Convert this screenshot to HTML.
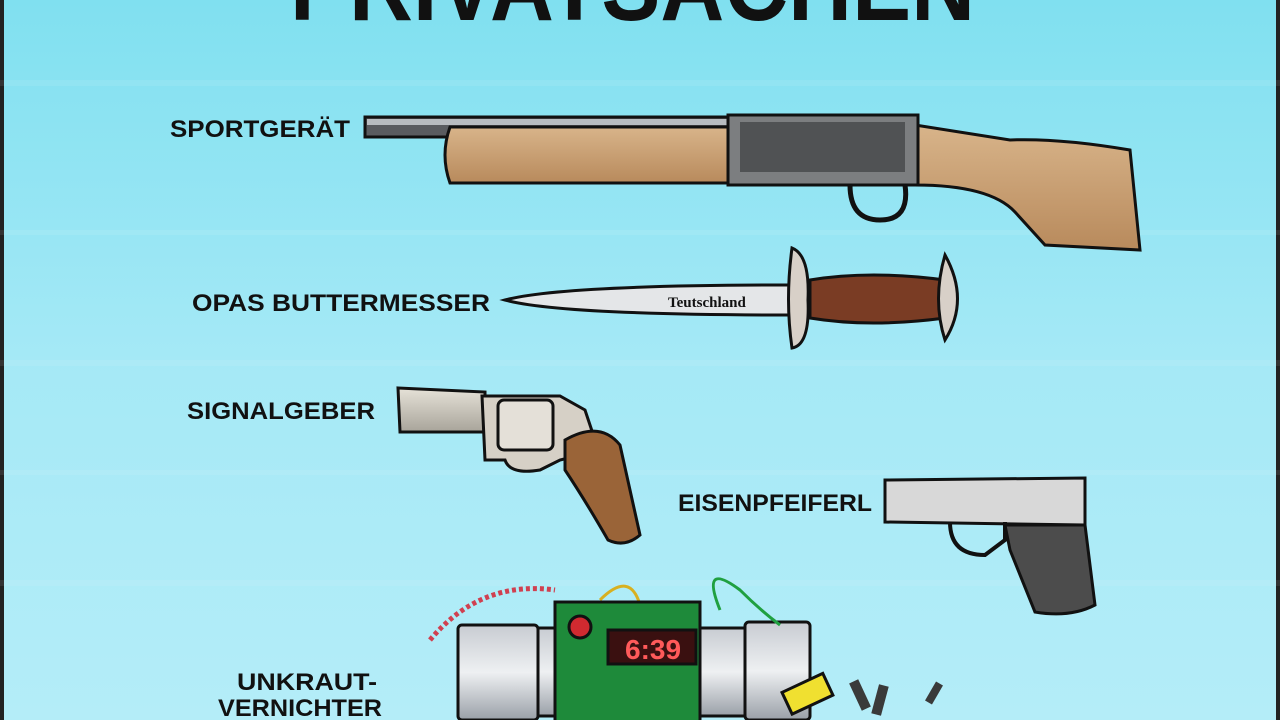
<!DOCTYPE html>
<html><head><meta charset="utf-8"><style>
html,body{margin:0;padding:0;width:1280px;height:720px;overflow:hidden}
svg{display:block}
text{font-family:"Liberation Sans",sans-serif;font-weight:bold;fill:#111}
</style></head><body>
<svg width="1280" height="720" viewBox="0 0 1280 720" xmlns="http://www.w3.org/2000/svg">
<defs>
<linearGradient id="bg" x1="0" y1="0" x2="0" y2="1">
<stop offset="0" stop-color="#80e0f0"/><stop offset="0.5" stop-color="#a5e9f6"/><stop offset="1" stop-color="#b4edf8"/>
</linearGradient>
<linearGradient id="wood" x1="0" y1="0" x2="0" y2="1">
<stop offset="0" stop-color="#d8b48a"/><stop offset="1" stop-color="#b88a5c"/>
</linearGradient>
<linearGradient id="metal" x1="0" y1="0" x2="0" y2="1">
<stop offset="0" stop-color="#e6e2d8"/><stop offset="1" stop-color="#a8a49a"/>
</linearGradient>
<linearGradient id="pipe" x1="0" y1="0" x2="0" y2="1">
<stop offset="0" stop-color="#c8ccd2"/><stop offset="0.5" stop-color="#eef0f2"/><stop offset="1" stop-color="#9aa0a8"/>
</linearGradient>
</defs>
<rect width="1280" height="720" fill="url(#bg)"/>
<rect x="0" y="0" width="4" height="720" fill="#222"/>
<rect x="1276" y="0" width="4" height="720" fill="#222"/>
<g fill="#fff" opacity="0.08">
<rect x="0" y="80" width="1280" height="6"/><rect x="0" y="230" width="1280" height="5"/>
<rect x="0" y="360" width="1280" height="6"/><rect x="0" y="470" width="1280" height="5"/><rect x="0" y="580" width="1280" height="6"/>
</g>
<!-- title -->
<text x="290" y="20" font-size="100" textLength="685" lengthAdjust="spacingAndGlyphs">PRIVATSACHEN</text>

<!-- labels -->
<text x="170" y="137" font-size="24" textLength="180" lengthAdjust="spacingAndGlyphs">SPORTGERÄT</text>
<text x="192" y="311" font-size="24" textLength="298" lengthAdjust="spacingAndGlyphs">OPAS BUTTERMESSER</text>
<text x="187" y="419" font-size="24" textLength="188" lengthAdjust="spacingAndGlyphs">SIGNALGEBER</text>
<text x="678" y="511" font-size="24" textLength="194" lengthAdjust="spacingAndGlyphs">EISENPFEIFERL</text>
<text x="237" y="690" font-size="24" textLength="140" lengthAdjust="spacingAndGlyphs">UNKRAUT-</text>
<text x="218" y="716" font-size="24" textLength="164" lengthAdjust="spacingAndGlyphs">VERNICHTER</text>

<!-- shotgun -->
<g stroke="#111" stroke-width="3">
<rect x="365" y="117" width="370" height="20" fill="#5a5c60"/>
<rect x="367" y="119" width="366" height="6" fill="#b8bcc0" stroke="none"/>
<path d="M915 125 L1010 140 Q1060 138 1130 150 L1140 250 L1045 245 L1015 212 Q990 185 915 185 Z" fill="url(#wood)"/>
<path d="M450 127 L728 127 L728 183 L450 183 Q440 155 450 127 Z" fill="url(#wood)"/>
<rect x="728" y="115" width="190" height="70" fill="#7c7e80"/>
<path d="M850 185 Q850 220 880 220 Q910 220 905 185" fill="none" stroke-width="5"/>
</g>
<rect x="740" y="122" width="165" height="50" fill="#505254"/>

<!-- knife -->
<g stroke="#111" stroke-width="3">
<path d="M505 300 Q560 285 790 285 L790 315 Q560 315 505 300 Z" fill="#e4e6e8"/>
<path d="M792 248 Q810 255 808 300 Q810 345 792 348 Q785 300 792 248 Z" fill="#d8d0c8"/>
<path d="M810 280 Q870 270 945 280 L945 318 Q870 328 810 318 Z" fill="#7a3c24"/>
<path d="M945 255 Q970 300 945 340 Q932 300 945 255 Z" fill="#d8d0c8"/>
</g>
<text x="668" y="307" font-size="15" fill="#444" style="font-family:'Liberation Serif',serif">Teutschland</text>

<!-- revolver -->
<g stroke="#111" stroke-width="3">
<path d="M398 388 L485 392 L485 432 L400 432 Z" fill="url(#metal)"/>
<path d="M482 396 L560 396 L585 410 L595 440 L600 450 L560 460 L540 470 Q510 475 505 460 L485 460 Z" fill="#d6d0c6"/>
<rect x="498" y="400" width="55" height="50" rx="6" fill="#e4e0d8"/>
<path d="M565 440 Q600 420 620 445 L640 535 Q625 548 608 540 Q585 500 565 470 Z" fill="#9a6438"/>
</g>

<!-- pistol -->
<g stroke="#111" stroke-width="3">
<path d="M885 480 L1085 478 L1085 525 L885 522 Z" fill="#d8d8d8"/>
<path d="M950 522 Q950 555 985 555 L1005 540 L1005 522" fill="none" stroke-width="4"/>
<path d="M1005 525 L1085 525 L1095 605 Q1070 618 1035 612 L1010 550 Z" fill="#4c4c4c"/>
</g>

<!-- bomb -->
<g stroke="#111" stroke-width="3">
<rect x="460" y="628" width="350" height="88" rx="4" fill="url(#pipe)"/>
<rect x="458" y="625" width="80" height="95" rx="4" fill="url(#pipe)"/>
<rect x="745" y="622" width="65" height="98" rx="4" fill="url(#pipe)"/>
<path d="M430 640 Q480 580 555 590" fill="none" stroke="#d04050" stroke-width="5" stroke-dasharray="4 3"/>
<path d="M600 600 Q630 570 640 605" fill="none" stroke="#d8b020" stroke-width="3"/>
<path d="M720 610 Q700 560 740 590 Q760 610 780 625" fill="none" stroke="#20a040" stroke-width="3"/>
<rect x="555" y="602" width="145" height="120" fill="#1e8a3a"/>
<rect x="608" y="630" width="88" height="34" fill="#3a1010"/>
<circle cx="580" cy="627" r="11" fill="#d02a30"/>
<rect x="785" y="682" width="45" height="24" fill="#f0e030" transform="rotate(-25 807 694)"/>
</g>
<text x="625" y="659" font-size="28" style="fill:#ff5a5a">6:39</text>
<g fill="#3a3a3a">
<rect x="855" y="680" width="10" height="30" transform="rotate(-25 860 695)"/>
<rect x="875" y="685" width="10" height="30" transform="rotate(15 880 700)"/>
<rect x="930" y="682" width="8" height="22" transform="rotate(30 934 693)"/>
</g>
</svg>
</body></html>
